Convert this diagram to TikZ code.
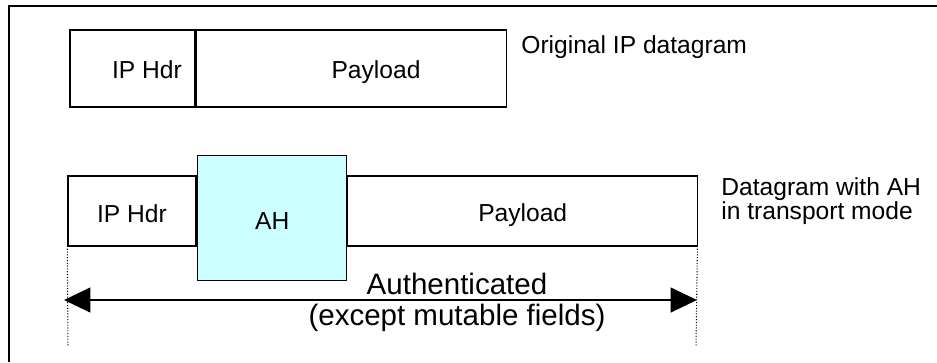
\documentclass[tikz,border=0pt]{standalone}
\usepackage{fontspec}
\setmainfont{Liberation Sans}
\usetikzlibrary{arrows.meta,positioning,calc}
\definecolor{ahcyan}{RGB}{204,255,255}

\begin{document}
\begin{tikzpicture}[x=0.2mm, y=-0.2mm,
    field/.style={draw, line width=0.8pt, inner sep=0pt, font=\fontsize{14}{12}\selectfont},
    lbl/.style={inner sep=0pt, font=\fontsize{14}{12}\selectfont}]
\useasboundingbox (0,0) rectangle (937,362);
% Frame
\draw[line width=0.6pt] (937,6) -- (9,6) -- (9,362);
% Original IP datagram
\node[field, minimum width=2.5cm, minimum height=1.54cm] (ipA) at (132.5,68.5) {};
\node[field, minimum width=6.2cm, minimum height=1.54cm, anchor=west] (plA) at (ipA.east) {};
\node[lbl, anchor=base] at (147,78) {IP Hdr};
\node[lbl, anchor=base] at (376,78) {Payload};
\node[lbl, anchor=base west] (origTxt) at (521,53) {Original IP datagram};
% Datagram with AH
\node[field, minimum width=2.56cm, minimum height=1.4cm] (ipB) at (132,211) {};
\node[field, fill=ahcyan, minimum width=2.98cm, minimum height=2.5cm, anchor=north west] (ah) at (197,155) {};
\node[field, minimum width=7cm, minimum height=1.4cm, anchor=west] (plB) at (347,211) {};
\node[lbl, anchor=base] at (ipB.center |- 0,222) {IP Hdr};
\node[lbl, anchor=base] at (ah.center |- 0,229) {AH};
\node[lbl, anchor=base] at (plB.center |- 0,221) {Payload};
\node[lbl, align=left, anchor=north west] (ahTxt) at (721,177) {Datagram with AH\\in transport mode};
% Authenticated span
\coordinate (dL) at (68,347);
\coordinate (dR) at (696,347);
\draw[densely dotted, line width=0.6pt] (ipB.south west) ++(0,2) -- (dL);
\draw[densely dotted, line width=0.6pt] (plB.south east) ++(-1,2) -- (dR);
\coordinate (aL) at (64,300);
\coordinate (aR) at (697,300);
\draw[{Triangle[length=15pt,width=14pt]}-{Triangle[length=15pt,width=14pt]}, line width=1.5pt] (aL) -- (aR);
\node[inner sep=0pt, align=center, anchor=north, font=\fontsize{16.8}{17.6}\selectfont] (authTxt) at (457,273) {Authenticated\\(except mutable fields)};
\end{tikzpicture}
\end{document}
